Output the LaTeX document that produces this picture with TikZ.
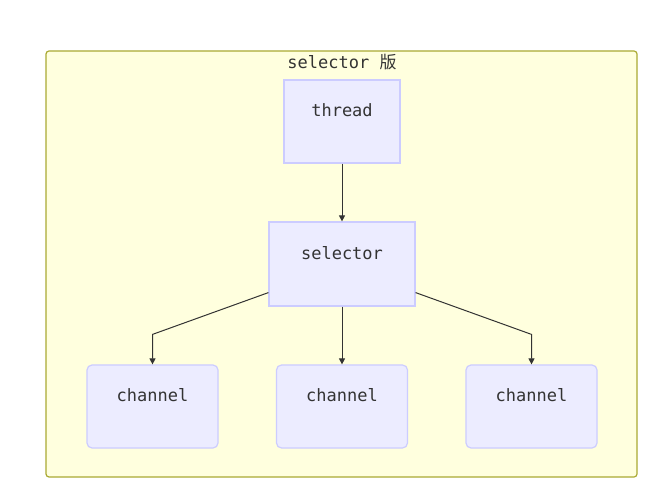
\documentclass[tikz,border=0pt]{standalone}
\usepackage{fontspec}
\setmonofont{DejaVu Sans Mono}
\newfontfamily\cjk{Noto Sans CJK SC}
\usetikzlibrary{arrows.meta, calc}

\definecolor{clusterfill}{HTML}{FFFFDE}
\definecolor{clusterline}{HTML}{AAAA33}
\definecolor{boxfill}{HTML}{ECECFF}
\definecolor{boxline}{HTML}{CCCCFF}
\definecolor{inkgray}{HTML}{333333}

\begin{document}
\begin{tikzpicture}[
    x=1pt, y=1pt,
    font=\ttfamily\fontsize{17}{20}\selectfont,
    text=inkgray,
    >={Triangle[length=6pt, width=6pt]},
    box/.style={draw=boxline, fill=boxfill, line width=1.2pt,
        inner sep=0pt, minimum width=#1, minimum height=83pt},
    box/.default=131pt,
    txt/.style={label={[text=inkgray, yshift=11pt]center:#1}},
    link/.style={->, draw=inkgray, line width=1pt}
]

% --- Page and cluster ---
\useasboundingbox[fill=white] (0,0) rectangle (668,503);
\draw[clusterline, fill=clusterfill, line width=1.2pt, rounded corners=3pt]
    (46,26) rectangle (637,452);
\node (title) at (342,441) {selector {\cjk 版}};

% --- Nodes ---
\node[box=116pt, txt=thread] (thread) at (342,381.5) {};
\node[box=146pt, minimum height=84pt, txt=selector] (selector) at (342,239) {};
\node[box, rounded corners=5pt, txt=channel] (chan1) at (152.5,96.5) {};
\node[box, rounded corners=5pt, txt=channel] (chan2) at (342,96.5) {};
\node[box, rounded corners=5pt, txt=channel] (chan3) at (531.5,96.5) {};

% --- Connectors ---
\draw[link] (thread) -- (selector);
\draw[link] ($(selector.south west)+(0,14)$) -- ($(chan1.north)+(0,30)$) -- (chan1.north);
\draw[link] (selector) -- (chan2);
\draw[link] ($(selector.south east)+(0,14)$) -- ($(chan3.north)+(0,30)$) -- (chan3.north);

\end{tikzpicture}
\end{document}
